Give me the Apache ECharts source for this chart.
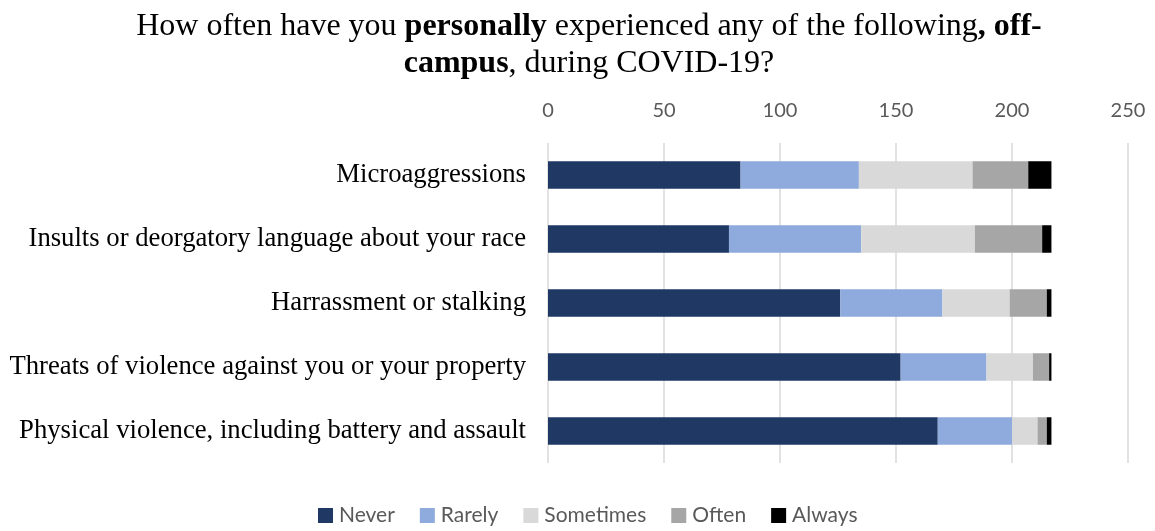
<!DOCTYPE html>
<html>
<head>
<meta charset="utf-8">
<script src="https://cdn.jsdelivr.net/npm/echarts@6/dist/echarts.min.js"></script>
<style>
  html, body { margin: 0; padding: 0; background: #fff; }
  #chart { width: 1155px; height: 531px; }
</style>
</head>
<body>
<div id="chart"></div>
<script>
// Survey items, listed top to bottom
const categories = [
  'Microaggressions',
  'Insults or deorgatory language about your race',
  'Harrassment or stalking',
  'Threats of violence against you or your property',
  'Physical violence, including battery and assault'
];

// Response counts per item (same order as categories)
const never     = [83, 78, 126, 152, 168];
const rarely    = [51, 57, 44, 37, 32];
const sometimes = [49, 49, 29, 20, 11];
const often     = [24, 29, 16, 7, 4];
const always    = [10, 4, 2, 1, 2];

const seriesNames = ['Never', 'Rarely', 'Sometimes', 'Often', 'Always'];
const seriesData = [never, rarely, sometimes, often, always];
const seriesColors = ['#203864', '#8FAADC', '#D9D9D9', '#A6A6A6', '#000000'];

const axisTicks = [0, 50, 100, 150, 200, 250];

const chart = echarts.init(document.getElementById('chart'), null, { renderer: 'canvas' });

chart.setOption({
  animation: false,
  backgroundColor: '#ffffff',
  title: {
    left: 584,
    textAlign: 'center',
    top: 3,
    text: '{n|How often have you }{b|personally}{n| experienced any of the following}{b|, off-}\n{b|campus}{n|, during COVID-19?}',
    textStyle: {
      fontWeight: 'normal',
      rich: {
        n: { fontFamily: 'Liberation Serif', fontSize: 32, fontWeight: 'normal', color: '#000', lineHeight: 37 },
        b: { fontFamily: 'Liberation Serif', fontSize: 32, fontWeight: 'bold', color: '#000', lineHeight: 37 }
      }
    }
  },
  legend: {
    bottom: 0,
    left: 313,
    itemWidth: 15,
    itemHeight: 15,
    itemGap: 25,
    icon: 'rect',
    textStyle: { fontFamily: 'Lato', fontSize: 21, color: '#595959', padding: [0, 0, 0, 1] },
    data: seriesNames
  },
  grid: {
    left: 548,
    right: 27,
    top: 143,
    bottom: 68,
    containLabel: false
  },
  xAxis: {
    type: 'value',
    position: 'top',
    min: axisTicks[0],
    max: axisTicks[axisTicks.length - 1],
    interval: 50,
    axisLine: { show: false },
    axisTick: { show: false },
    axisLabel: { fontFamily: 'Lato', fontSize: 20, color: '#595959', margin: 22 },
    splitLine: { show: true, lineStyle: { color: '#d9d9d9', width: 1.5 } }
  },
  yAxis: {
    type: 'category',
    inverse: true,
    data: categories,
    axisLine: { show: false },
    axisTick: { show: false },
    axisLabel: { fontFamily: 'Liberation Serif', fontSize: 26.7, color: '#000', margin: 22 }
  },
  series: seriesNames.map((name, i) => ({
    name: name,
    type: 'bar',
    stack: 'total',
    barCategoryGap: '57%',
    data: seriesData[i],
    itemStyle: { color: seriesColors[i] }
  }))
});
</script>
</body>
</html>
